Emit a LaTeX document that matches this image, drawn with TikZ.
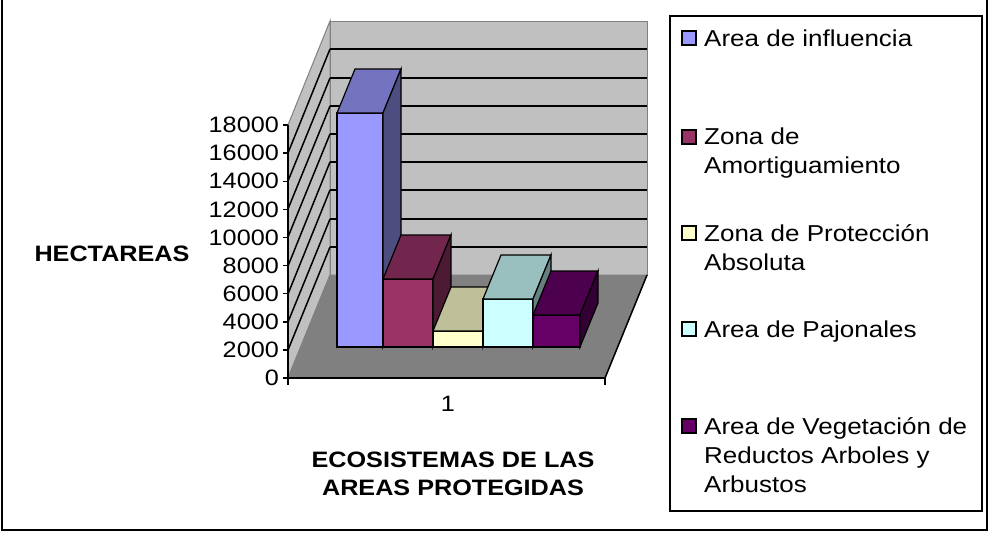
\documentclass[tikz,border=0pt]{standalone}
\usepackage{fontspec}
\setmainfont{Liberation Sans}[FakeStretch=1.13]
\usetikzlibrary{positioning,calc}

\definecolor{pared}{RGB}{192,192,192}
\definecolor{piso}{RGB}{128,128,128}
\definecolor{azulF}{RGB}{153,153,255}
\definecolor{azulT}{RGB}{115,115,191}
\definecolor{azulS}{RGB}{77,77,128}
\definecolor{granateF}{RGB}{153,51,102}
\definecolor{granateT}{RGB}{115,38,77}
\definecolor{granateS}{RGB}{77,26,51}
\definecolor{cremaF}{RGB}{255,255,204}
\definecolor{cremaT}{RGB}{191,191,153}
\definecolor{cremaS}{RGB}{128,128,102}
\definecolor{celesteF}{RGB}{204,255,255}
\definecolor{celesteT}{RGB}{153,191,191}
\definecolor{celesteS}{RGB}{102,128,128}
\definecolor{moradoF}{RGB}{102,0,102}
\definecolor{moradoT}{RGB}{77,0,77}
\definecolor{moradoS}{RGB}{51,0,51}

% cubo: x izq, x der, y sup, color base
\newcommand{\cubo}[4]{%
\draw [fill=#4F, line width=1.2pt] (#1,347) rectangle (#2,#3);
\draw [fill=#4T, line width=1.2pt] (#1,#3) -- ++(18,-44) -- ($(#2,#3)+(18,-44)$) -- (#2,#3) -- cycle;
\draw [fill=#4S, line width=1.2pt] (#2,347) -- (#2,#3) -- ++(18,-44) -- (#2+18,303) -- cycle;
}

\begin{document}
\begin{tikzpicture}[x=1pt,y=1pt,yscale=-1,xscale=1,
  every node/.style={font=\fontsize{22.3}{26}\selectfont, inner sep=0pt},
  borde/.style={draw=piso, line width=1pt},
  grilla/.style={draw=black, line width=1.5pt},
  eje/.style={draw=black, line width=1.5pt},
  cuadro/.style={draw=black, line width=1.2pt, minimum size=14pt},
  leyenda/.style={anchor=base west, align=left, font=\fontsize{23}{29}\selectfont}]
\useasboundingbox (0,0) rectangle (990,533);

% marco exterior
\draw [line width=1.6pt] (2,-2) -- (2,530) -- (987,530) -- (987,-2);

% paredes y piso
\draw [borde, fill=pared] (330,21) rectangle (647,275);
\draw [borde, fill=pared] (288,378) -- (288,125) -- (330,21) -- (330,275) -- cycle;
\draw [borde, fill=piso] (288,378) -- (330,275) -- (647,275) -- (605,378) -- cycle;
\draw [eje] (647,275) -- (605,378);

% lineas de division
\foreach \i in {1,...,8} {
  \draw [grilla] (330,{round(275-28.2*\i)}) -- (647,{round(275-28.2*\i)});
  \draw [grilla] (288,{round(378-28.1*\i)}) -- (330,{round(275-28.2*\i)});
}

% barras
\cubo{337}{383}{113}{azul}
\cubo{383}{433}{279}{granate}
\cubo{433}{483}{331}{crema}
\cubo{483}{533}{299}{celeste}
\cubo{533}{580}{315}{morado}

% ejes
\draw [eje] (288,125) -- (288,378) -- (605,378);
\draw [eje] (288,378) -- (288,385);
\draw [eje] (605,378) -- (605,385);
\foreach \v [count=\i from 0] in {0,2000,4000,6000,8000,10000,12000,14000,16000,18000} {
  \draw [eje] (283,{378-28.1*\i}) -- (288,{378-28.1*\i});
  \node [anchor=east] (tick\i) at (279,{378-28.1*\i}) {\v};
}

% titulos
\node [font=\fontsize{22.3}{26}\selectfont\bfseries] (ytitulo) at (112,254) {HECTAREAS};
\node (cat) at (448,404) {1};
\node [align=center, font=\fontsize{22.3}{28}\selectfont\bfseries] (xtitulo) at (453,474) {ECOSISTEMAS DE LAS\\AREAS PROTEGIDAS};

% leyenda
\draw [line width=1.3pt] (670,16) rectangle (982,511);
\node [cuadro, fill=azulF] (sw1) at (689,38) {};
\node [cuadro, fill=granateF] (sw2) at (689,137) {};
\node [cuadro, fill=cremaF] (sw3) at (689,233) {};
\node [cuadro, fill=celesteF] (sw4) at (689,329) {};
\node [cuadro, fill=moradoF] (sw5) at (689,426) {};
\node [leyenda] (leg1) at (704,46) {Area de influencia};
\node [leyenda] (leg2) at (704,173) {Zona de\\Amortiguamiento};
\node [leyenda] (leg3) at (704,270) {Zona de Protección\\Absoluta};
\node [leyenda] (leg4) at (704,337) {Area de Pajonales};
\node [leyenda] (leg5) at (704,492) {Area de Vegetación de\\Reductos Arboles y\\Arbustos};

\end{tikzpicture}
\end{document}
